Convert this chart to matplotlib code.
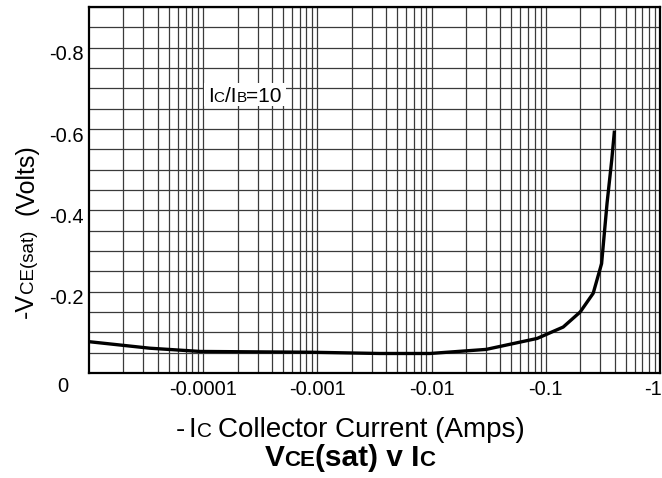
import matplotlib
matplotlib.use('Agg')
import matplotlib.pyplot as plt
from matplotlib.ticker import FixedLocator, MultipleLocator, NullFormatter, LogLocator
from matplotlib.transforms import IdentityTransform, ScaledTranslation
from matplotlib.patches import Rectangle

W, H = 662, 478

# -Ic (A) and -Vce(sat) (V)
ic = [1e-5, 3.4e-5, 9.4e-5, 9e-4, 3.5e-3, 9.7e-3, 0.03, 0.084, 0.142,
      0.2, 0.26, 0.308, 0.344, 0.378, 0.398]
vce = [0.077, 0.061, 0.053, 0.051, 0.048, 0.048, 0.058, 0.085, 0.113,
       0.150, 0.196, 0.269, 0.418, 0.524, 0.592]

x_ticks = [1e-4, 1e-3, 1e-2, 1e-1, 1]
x_labels = ['-0.0001', '-0.001', '-0.01', '-0.1', '-1']
y_ticks = [0.2, 0.4, 0.6, 0.8]
y_labels = ['-0.2', '-0.4', '-0.6', '-0.8']

plt.rcParams['font.family'] = ['Liberation Sans', 'DejaVu Sans']

fig = plt.figure(figsize=(W / 100, H / 100), dpi=100)
fig.patch.set_facecolor('white')
ax = fig.add_axes([89 / W, 1 - 373 / H, (660 - 89) / W, (373 - 7) / H])

ax.plot(ic, vce, color='black', lw=2.4, solid_joinstyle='round', zorder=3)

ax.set_xscale('log')
ax.set_xlim(1e-5, 1)
ax.set_ylim(0, 0.9)

ax.xaxis.set_major_locator(FixedLocator(x_ticks))
ax.set_xticklabels(x_labels)
ax.xaxis.set_minor_locator(LogLocator(base=10, subs=range(2, 10), numticks=20))
ax.xaxis.set_minor_formatter(NullFormatter())
ax.yaxis.set_major_locator(FixedLocator(y_ticks))
ax.set_yticklabels(y_labels)
ax.yaxis.set_minor_locator(MultipleLocator(0.05))

ax.tick_params(which='both', length=0)
ax.tick_params(axis='x', labelsize=14.5, pad=5)
ax.tick_params(axis='y', labelsize=14.5, pad=4)
ax.grid(True, which='both', color='#3a3a3a', lw=0.9)
ax.set_axisbelow(True)
for sp in ax.spines.values():
    sp.set_linewidth(1.6)

# y tick labels sit a bit below their grid lines in the original
shift = ScaledTranslation(0, -5 / 100, fig.dpi_scale_trans)
for lab in ax.get_yticklabels():
    lab.set_transform(lab.get_transform() + shift)
# the last x label hugs the right edge
last = ax.get_xticklabels()[-1]
last.set_horizontalalignment('right')
last.set_transform(last.get_transform() + ScaledTranslation(2 / 100, 0, fig.dpi_scale_trans))

fig.text(63, H - 387, '0', fontsize=14.5, ha='center', va='center',
         transform=IdentityTransform())

rend = fig.canvas.get_renderer()


def mixed(x, y, parts, ha='left', rotation=0, weight='normal', z=3):
    # parts: (text, fontsize, gap before in px); pieces share one baseline
    texts, offs = [], []
    pos = 0.0
    for s, size, gap in parts:
        pos += gap
        t = fig.text(0, 0, s, fontsize=size, fontweight=weight, rotation=rotation,
                     rotation_mode='anchor', ha='left', va='baseline',
                     transform=IdentityTransform(), zorder=z)
        bb = t.get_window_extent(rend)
        texts.append(t)
        offs.append(pos)
        pos += bb.height if rotation else bb.width
    start = -pos / 2 if ha == 'center' else 0
    for t, o in zip(texts, offs):
        if rotation:
            t.set_position((x, y + start + o))
        else:
            t.set_position((x + start + o, y))
    return pos


# y axis label
mixed(33, H - 231, [('-V', 18, 0), ('CE(sat)', 13.5, 0), ('(Volts)', 18, 14)],
      ha='center', rotation=90)

# x axis label
mixed(350, H - 437, [('-', 20, 0), ('I', 20, 4), ('C', 15, 0),
                     ('Collector Current (Amps)', 20, 6)], ha='center')

# title
mixed(350, H - 466, [('V', 21.5, 0), ('CE', 16, 0), ('(sat) v I', 21.5, 0),
                     ('C', 16, 0)], ha='center', weight='bold')

# Ic/Ib annotation on a white patch
wd = mixed(208, H - 101.5, [('I', 15, 0), ('C', 11, 0), ('/I', 15, 0),
                            ('B', 11, 0), ('=10', 15, 0)], z=4)
fig.add_artist(Rectangle((204, H - 106), wd + 8, 23, facecolor='white',
                         edgecolor='none', transform=IdentityTransform(), zorder=3.5))

fig.savefig('out.png', dpi=100, facecolor='white')
